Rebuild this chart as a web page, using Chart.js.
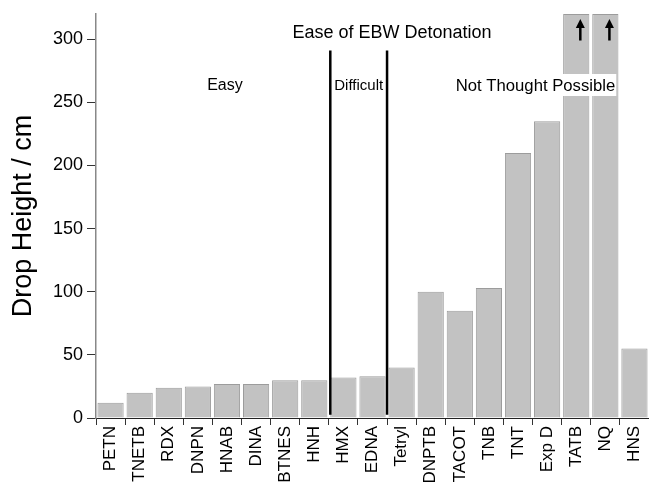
<!DOCTYPE html>
<html>
<head>
<meta charset="utf-8">
<script src="https://cdn.jsdelivr.net/npm/chart.js@4/dist/chart.umd.min.js"></script>
<style>
  html, body { margin: 0; padding: 0; background: #fff; }
  #wrap { width: 649px; height: 483px; }
</style>
</head>
<body>
<div id="wrap"><canvas id="c" width="649" height="483"></canvas></div>
<script>
// Explosives, ordered by drop height
const compounds = ['PETN', 'TNETB', 'RDX', 'DNPN', 'HNAB', 'DINA', 'BTNES', 'HNH', 'HMX', 'EDNA',
  'Tetryl', 'DNPTB', 'TACOT', 'TNB', 'TNT', 'Exp D', 'TATB', 'NQ', 'HNS'];
const dropHeights = [12, 20, 24, 25, 27, 27, 30, 30, 32, 33, 40, 100, 85, 103, 210, 235, 320, 320, 55];
// Bars that run off the top of the axis (value is a lower bound)
const offScale = ['TATB', 'NQ'];
// Boundaries between the ease-of-detonation regions (category positions)
const regionBoundaries = [7.55, 9.5];
const yTicks = [0, 50, 100, 150, 200, 250, 300];

const FONT = '"Liberation Sans", Arial, Helvetica, sans-serif';

const annotations = {
  id: 'annotations',
  afterDatasetsDraw(chart) {
    const { ctx, scales: { x, y } } = chart;
    ctx.save();

    // region divider lines
    ctx.strokeStyle = '#000';
    ctx.lineWidth = 2.5;
    regionBoundaries.forEach(b => {
      const px = x.getPixelForValue(b);
      ctx.beginPath();
      ctx.moveTo(px, y.getPixelForValue(291));
      ctx.lineTo(px, y.getPixelForValue(2.5));
      ctx.stroke();
    });

    // upward arrows on the off-scale bars
    ctx.fillStyle = '#000';
    ctx.strokeStyle = '#000';
    offScale.forEach(name => {
      const px = x.getPixelForValue(compounds.indexOf(name) + 0.14);
      const top = y.getPixelForValue(316);
      const bot = y.getPixelForValue(299);
      ctx.lineWidth = 2.5;
      ctx.beginPath();
      ctx.moveTo(px, bot);
      ctx.lineTo(px, top + 6);
      ctx.stroke();
      ctx.beginPath();
      ctx.moveTo(px, top);
      ctx.lineTo(px - 4.5, top + 9);
      ctx.lineTo(px + 4.5, top + 9);
      ctx.closePath();
      ctx.fill();
    });

    ctx.textBaseline = 'middle';
    ctx.textAlign = 'center';
    ctx.fillStyle = '#000';

    ctx.font = '18px ' + FONT;
    ctx.fillText('Ease of EBW Detonation', 392, 33);

    ctx.font = '16px ' + FONT;
    ctx.fillText('Easy', x.getPixelForValue(3.93), 86);

    ctx.font = '15px ' + FONT;
    ctx.fillText('Difficult', (x.getPixelForValue(7.55) + x.getPixelForValue(9.5)) / 2, 86);

    ctx.font = '16.7px ' + FONT;
    const label = 'Not Thought Possible';
    const w = ctx.measureText(label).width;
    const cx = x.getPixelForValue(14.6);
    ctx.fillStyle = '#fff';
    ctx.fillRect(cx - w / 2 - 2, 74, w + 3, 22);
    ctx.fillStyle = '#000';
    ctx.fillText(label, cx, 86);

    ctx.restore();
  }
};

new Chart(document.getElementById('c'), {
  type: 'bar',
  data: {
    labels: compounds,
    datasets: [{
      data: dropHeights,
      backgroundColor: '#c2c2c2',
      borderColor: '#9c9c9c',
      borderWidth: 1,
      barPercentage: 0.9,
      categoryPercentage: 1.0
    }]
  },
  options: {
    responsive: false,
    animation: false,
    devicePixelRatio: 1,
    layout: { padding: { top: 14, left: 0, right: -2, bottom: 0 } },
    plugins: { legend: { display: false }, tooltip: { enabled: false } },
    scales: {
      x: {
        offset: true,
        grid: { display: true, drawOnChartArea: false, drawTicks: true, tickLength: 7, color: '#333', offset: true },
        border: { display: true, color: '#222', width: 1 },
        ticks: {
          color: '#000',
          font: { family: FONT, size: 17 },
          minRotation: 90,
          maxRotation: 90,
          autoSkip: false,
          padding: 1
        },
        afterFit(scale) {
          scale.height = 65;
          scale.paddingLeft = 0;
          scale.paddingRight = 0;
        }
      },
      y: {
        min: 0,
        max: 320,
        afterBuildTicks(scale) { scale.ticks = yTicks.map(v => ({ value: v })); },
        grid: { display: true, drawOnChartArea: false, drawTicks: true, tickLength: 9, color: '#333' },
        border: { display: true, color: '#888', width: 1.5 },
        ticks: {
          color: '#000',
          font: { family: FONT, size: 18 },
          padding: 4
        },
        title: {
          display: true,
          text: 'Drop Height / cm',
          color: '#000',
          font: { family: FONT, size: 27 },
          padding: { top: 7, bottom: 0 }
        },
        afterFit(scale) {
          scale.width = 96;
          scale.paddingTop = 0;
          scale.paddingBottom = 0;
        }
      }
    }
  },
  plugins: [annotations]
});
</script>
</body>
</html>
